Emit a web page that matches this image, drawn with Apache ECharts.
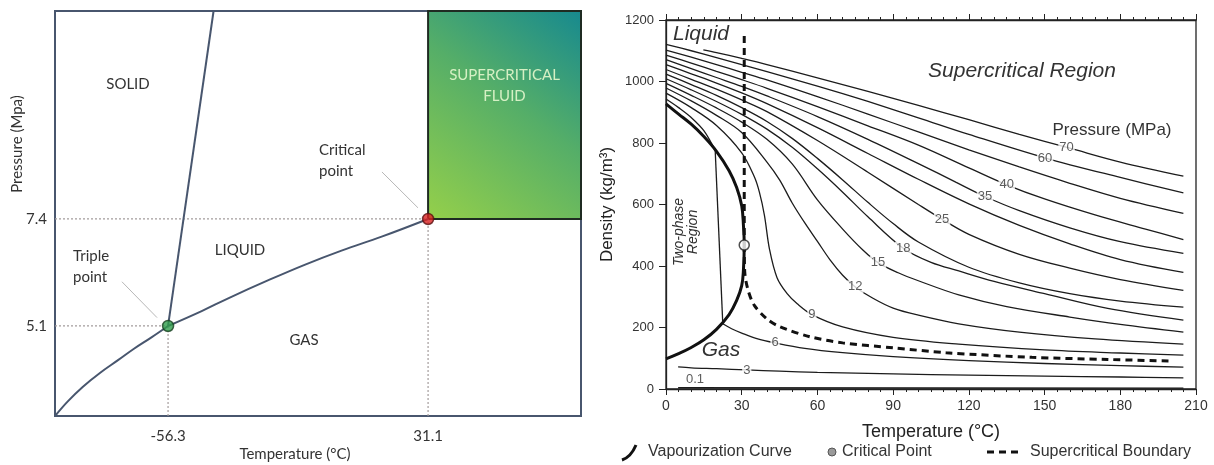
<!DOCTYPE html>
<html>
<head>
<meta charset="utf-8">
<title>CO2 phase diagram and density isobars</title>
<script src="https://cdn.jsdelivr.net/npm/echarts@6/dist/echarts.min.js"></script>
<style>
  html, body { margin: 0; padding: 0; background: #fff; }
  #chart { width: 1214px; height: 465px; }
</style>
</head>
<body>
<div id="chart"></div>
<script>
// ---------- left panel: schematic P-T phase diagram ----------
const ptTempRange = [-94.3, 82.5]
const ptPressRange = [3.165, 11.87]
const ptTempTicks = [-56.3, 31.1]
const ptPressTicks = [5.1, 7.4]
const triplePoint = [-56.3, 5.1]
const criticalPoint = [31.1, 7.4]
const sublimationCurve = [[-94.3, 3.165], [-90, 3.48], [-85, 3.79], [-79.2, 4.09], [-73, 4.37], [-68, 4.6], [-62, 4.85], [-56.3, 5.1]]
const boilingCurve = [[-56.3, 5.1], [-45, 5.42], [-35.9, 5.7], [-22, 6.1], [-10.2, 6.42], [2, 6.72], [15.5, 7.02], [31.1, 7.4]]
const meltingLine = [[-56.3, 5.1], [-41.0, 11.87]]
const tripleLeader = [[-71.8, 6.05], [-60.0, 5.28]]
const criticalLeader = [[15.6, 8.41], [27.7, 7.64]]

// ---------- right panel: CO2 density vs temperature ----------
// [temperature degC, density kg/m3]
const p70 = [[14.8, 1103], [20, 1094], [30, 1075], [40, 1055], [60, 1012], [80, 968], [100, 922], [120, 876], [140, 828], [160, 783], [180, 738], [205, 692]]
const p60 = [[0, 1121], [10, 1100], [20, 1078], [30, 1055], [40, 1032], [60, 985], [80, 935], [100, 882], [120, 828], [150, 752], [180, 688], [205, 638]]
const p50 = [[0, 1102], [10, 1079], [20, 1055], [30, 1030], [40, 1005], [60, 951], [80, 894], [100, 836], [120, 778], [140, 722], [160, 669], [180, 620], [205, 571]]
const p40 = [[0, 1086], [10, 1060], [20, 1033], [30, 1006], [40, 978], [60, 918], [80, 856], [100, 793], [120, 719], [135, 664], [150, 618], [170, 566], [190, 520], [205, 486]]
const p35 = [[0, 1071], [10, 1042], [20, 1013], [30, 984], [40, 953], [60, 886], [80, 812], [100, 733], [115, 672], [126.4, 626], [140, 580], [160, 524], [180, 479], [205, 441]]
const p30 = [[0, 1055], [10, 1025], [20, 995], [30, 963], [40, 928], [60, 850], [80, 766], [100, 682], [120, 602], [140, 532], [160, 472], [180, 421], [205, 379]]
const p25 = [[0, 1039], [10, 1007], [20, 975], [30, 940], [40, 902], [60, 808], [80, 705], [100, 600], [109.4, 552], [120, 503], [140, 438], [160, 393], [180, 356], [205, 321]]
const p20 = [[0, 1024], [10, 990], [20, 955], [30, 915], [40, 870], [50, 815], [60, 750], [70, 680], [80, 607], [90, 538], [100, 478], [120, 396], [140, 345], [160, 310], [180, 286], [205, 266]]
const p18 = [[0, 1009], [10, 973], [20, 935], [30, 893], [40, 845], [50, 786], [60, 716], [70, 640], [80, 560], [94, 458], [105, 412], [116, 384], [130, 350], [150, 310], [175, 262], [205, 224]]
const p15 = [[0, 994], [10, 955], [20, 914], [30, 868], [40, 812], [50, 732], [60, 615], [70, 520], [78, 452], [84, 411], [92, 378], [100, 352], [116, 306], [135, 268], [160, 234], [180, 210], [205, 185]]
const p12 = [[0, 979], [10, 937], [20, 890], [30, 834], [40, 738], [45, 680], [50, 605], [55, 540], [60, 480], [65, 420], [70, 370], [75, 332], [82, 295], [90, 263], [100, 240], [116, 212], [140, 185], [170, 163], [205, 146]]
const p9 = [[0, 962], [10, 915], [20, 857], [30, 768], [35, 690], [37, 640], [39, 565], [41, 455], [44, 362], [48, 310], [52, 277], [57.8, 242], [70, 202], [90, 168], [116, 146], [150, 127], [180, 117], [205, 110]]
const p6Liquid = [[0, 943], [5, 915], [10, 883], [15, 840], [19.5, 775]]
const p6Gas = [[22.5, 212], [26, 196], [30, 182], [36, 164], [43.2, 150], [55, 132], [70, 118], [90, 105], [120, 92], [150, 83], [180, 76], [205, 71]]
const p3 = [[4.8, 72], [10, 69], [20, 66], [32, 62], [45, 58], [60, 54], [90, 49], [120, 45], [150, 42], [180, 39], [205, 36]]
const p01 = [[4.8, 4], [205, 3]]

const satVapour = [[0, 98], [5, 115], [10, 135], [15, 160], [20, 194], [25, 242], [28, 288], [30, 336], [30.7, 390]]
const satLiquid = [[0, 927], [5, 894], [10, 861], [15, 821], [20, 773], [25, 710], [28, 655], [30, 596], [30.7, 530]]
const co2Critical = [31, 468]
const boundaryTop = 1148
const boundaryCurve = [[31, 468], [31.2, 380], [32.5, 322], [35, 272], [40, 228], [45, 203], [57, 170], [70, 150], [90, 134], [111, 118], [145, 103], [175, 96], [200, 91]]

// [temperature, density, text]
const isobarLabels = [[158.7, 786, '70'], [150.2, 750, '60'], [135, 664, '40'], [126.4, 626, '35'], [109.4, 552, '25'],
  [94, 458, '18'], [84, 411, '15'], [75, 332, '12'], [57.8, 242, '9'], [43.2, 150, '6'], [32, 62, '3']]
const lowLabel = [11.5, 4, '0.1']

const leftFont = 'Lato, "Open Sans", sans-serif'
const rightFont = '"Liberation Sans", Arial, sans-serif'
const slate = '#48566e'
const ink = '#1c1c1c'

const chart = echarts.init(document.getElementById('chart'))

function line(data, extra) {
  return Object.assign({
    type: 'line',
    xAxisIndex: 1,
    yAxisIndex: 1,
    data: data,
    showSymbol: false,
    silent: true,
    smooth: 0.35,
    lineStyle: { color: ink, width: 1.3 }
  }, extra || {})
}

const series = []

// left panel
series.push({
  type: 'line', xAxisIndex: 0, yAxisIndex: 0, data: [], silent: true,
  markArea: {
    silent: true,
    itemStyle: {
      color: new echarts.graphic.LinearGradient(0, 1, 1, 0, [
        { offset: 0, color: '#95d04a' },
        { offset: 0.55, color: '#55ae68' },
        { offset: 1, color: '#16898f' }
      ]),
      borderColor: '#1f2b22',
      borderWidth: 2
    },
    label: {
      show: true, position: ['50%', '36%'], align: 'center', verticalAlign: 'middle',
      formatter: 'SUPERCRITICAL\nFLUID', color: '#d6f0c4', fontFamily: leftFont, fontSize: 15, lineHeight: 21
    },
    data: [[{ coord: criticalPoint }, { coord: [ptTempRange[1], ptPressRange[1]] }]]
  }
})
const guide = { color: '#a39c9c', width: 1.2, type: [2, 2] }
const guides = [
  [[ptTempRange[0], criticalPoint[1]], criticalPoint],
  [[criticalPoint[0], ptPressRange[0]], criticalPoint],
  [[ptTempRange[0], triplePoint[1]], triplePoint],
  [[triplePoint[0], ptPressRange[0]], triplePoint]
]
guides.forEach(g => series.push({ type: 'line', xAxisIndex: 0, yAxisIndex: 0, data: g, showSymbol: false, silent: true, lineStyle: guide }))
;[tripleLeader, criticalLeader].forEach(g => series.push({
  type: 'line', xAxisIndex: 0, yAxisIndex: 0, data: g, showSymbol: false, silent: true, lineStyle: { color: '#b8b8b8', width: 1 }
}))
;[sublimationCurve, boilingCurve].forEach(c => series.push({
  type: 'line', xAxisIndex: 0, yAxisIndex: 0, data: c, showSymbol: false, silent: true, smooth: 0.4,
  lineStyle: { color: slate, width: 2 }
}))
series.push({ type: 'line', xAxisIndex: 0, yAxisIndex: 0, data: meltingLine, showSymbol: false, silent: true, lineStyle: { color: slate, width: 2 } })
series.push({ type: 'scatter', xAxisIndex: 0, yAxisIndex: 0, data: [triplePoint], symbolSize: 11, z: 5,
  itemStyle: { color: '#2f9e4b', borderColor: '#17401f', borderWidth: 1.5 } })
series.push({ type: 'scatter', xAxisIndex: 0, yAxisIndex: 0, data: [criticalPoint], symbolSize: 11, z: 5,
  itemStyle: { color: '#d92222', borderColor: '#5a1010', borderWidth: 1.5 } })

// right panel
;[p70, p60, p50, p40, p35, p30, p25, p20, p18, p15, p12, p9, p6Liquid, p6Gas, p3, p01].forEach(d => series.push(line(d)))
series.push(line([p6Liquid[p6Liquid.length - 1], p6Gas[0]], { smooth: false }))
series.push(line(satVapour.concat([co2Critical], satLiquid.slice().reverse()), {
  name: 'Vapourization Curve', smooth: 0.4, lineStyle: { color: '#111', width: 3 }, z: 3
}))
series.push(line([[co2Critical[0], boundaryTop], co2Critical], {
  smooth: false, lineStyle: { color: '#111', width: 3, type: [7, 5] }, z: 3
}))
series.push(line(boundaryCurve, { smooth: 0.3, lineStyle: { color: '#111', width: 3, type: [7, 5] }, z: 3 }))
series.push({
  type: 'scatter', xAxisIndex: 1, yAxisIndex: 1, silent: true, z: 6, symbolSize: 10,
  data: [co2Critical], itemStyle: { color: '#fff', borderColor: '#222', borderWidth: 1.5 }
})
series.push({
  type: 'scatter', xAxisIndex: 1, yAxisIndex: 1, silent: true, z: 5, symbolSize: 0,
  data: isobarLabels.map(d => ({ name: d[2], value: [d[0], d[1]] })).concat([{
    name: lowLabel[2], value: [lowLabel[0], lowLabel[1]],
    label: { position: 'top', distance: 2, backgroundColor: 'transparent' }
  }]),
  label: {
    show: true, position: 'inside', formatter: '{b}', color: '#333',
    fontFamily: '"Liberation Sans Narrow", ' + rightFont, fontSize: 13,
    backgroundColor: '#fff', padding: [0, 1]
  }
})

const txt = (x, y, text, style) => ({
  type: 'text', x: x, y: y, silent: true,
  style: Object.assign({ text: text, fill: '#333', textAlign: 'center', textVerticalAlign: 'middle', align: 'center', verticalAlign: 'middle' }, style)
})
const lf = size => ({ fontFamily: leftFont, fontSize: size })
const rf = (size, italic) => ({ fontFamily: rightFont, fontSize: size, fontStyle: italic ? 'italic' : 'normal' })
const leftAlign = { textAlign: 'left', align: 'left' }

const option = {
  animation: false,
  backgroundColor: '#fff',
  grid: [
    { left: 55, right: 633, top: 11, bottom: 49, show: true, borderColor: slate, borderWidth: 2, outerBoundsMode: 'none' },
    { left: 666, right: 18, top: 20, bottom: 76, show: true, borderColor: '#222', borderWidth: 1.3, outerBoundsMode: 'none' }
  ],
  xAxis: [
    {
      gridIndex: 0, type: 'value', min: ptTempRange[0], max: ptTempRange[1],
      axisLine: { show: false }, axisTick: { show: false }, splitLine: { show: false },
      axisLabel: { customValues: ptTempTicks, margin: 13, color: '#333', fontFamily: leftFont, fontSize: 15 }
    },
    {
      gridIndex: 1, type: 'value', min: 0, max: 210, interval: 30,
      name: 'Temperature (°C)', nameLocation: 'middle', nameGap: 34,
      nameTextStyle: { color: '#222', fontFamily: rightFont, fontSize: 18 },
      axisLine: { lineStyle: { color: '#222', width: 1.3 } },
      axisTick: { length: 6, lineStyle: { color: '#222' } },
      minorTick: { show: true, splitNumber: 6, length: 3, lineStyle: { color: '#222' } },
      splitLine: { show: false },
      axisLabel: { margin: 10, color: '#333', fontFamily: rightFont, fontSize: 14 }
    },
    {
      gridIndex: 1, type: 'value', position: 'top', min: 0, max: 210, interval: 30,
      axisLine: { lineStyle: { color: '#222', width: 1.3 } },
      axisTick: { length: 6, lineStyle: { color: '#222' } },
      minorTick: { show: true, splitNumber: 6, length: 3, lineStyle: { color: '#222' } },
      splitLine: { show: false }, axisLabel: { show: false }
    }
  ],
  yAxis: [
    {
      gridIndex: 0, type: 'value', min: ptPressRange[0], max: ptPressRange[1],
      axisLine: { show: false }, axisTick: { show: false }, splitLine: { show: false },
      axisLabel: { customValues: ptPressTicks, margin: 8, color: '#333', fontFamily: leftFont, fontSize: 15 }
    },
    {
      gridIndex: 1, type: 'value', min: 0, max: 1200, interval: 200,
      name: 'Density (kg/m³)', nameLocation: 'middle', nameGap: 50,
      nameTextStyle: { color: '#222', fontFamily: rightFont, fontSize: 17 },
      axisLine: { show: true, lineStyle: { color: '#222', width: 1.3 } },
      axisTick: { show: true, length: 7, lineStyle: { color: '#222' } },
      splitLine: { show: false },
      axisLabel: { margin: 12, color: '#333', fontFamily: rightFont, fontSize: 13, formatter: v => String(v) }
    }
  ],
  graphic: [
    // left panel text
    Object.assign(txt(17, 144, 'Pressure (Mpa)', lf(15)), { rotation: Math.PI / 2 }),
    txt(295, 454, 'Temperature (°C)', lf(15)),
    txt(128, 84, 'SOLID', lf(15)),
    txt(240, 250, 'LIQUID', lf(15)),
    txt(304, 340, 'GAS', lf(15)),
    txt(73, 256, 'Triple', Object.assign(lf(15), leftAlign)),
    txt(73, 277, 'point', Object.assign(lf(15), leftAlign)),
    txt(319, 150, 'Critical', Object.assign(lf(15), leftAlign)),
    txt(319, 171, 'point', Object.assign(lf(15), leftAlign)),
    // right panel text
    txt(701, 34, 'Liquid', rf(21, true)),
    txt(1022, 71, 'Supercritical Region', rf(21, true)),
    txt(1112, 130, 'Pressure (MPa)', rf(17)),
    txt(721, 350, 'Gas', rf(21, true)),
    Object.assign(txt(686, 232, 'Two-phase\nRegion', Object.assign(rf(14, true), { lineHeight: 14 })), { rotation: Math.PI / 2 }),
    // legend
    { type: 'bezierCurve', silent: true, shape: { x1: 622, y1: 460, x2: 636, y2: 445, cpx1: 631, cpy1: 457 }, style: { stroke: '#111', lineWidth: 3, fill: null } },
    txt(648, 452, 'Vapourization Curve', Object.assign(rf(16), leftAlign)),
    { type: 'circle', silent: true, shape: { cx: 832, cy: 452, r: 4 }, style: { fill: '#9a9a9a', stroke: '#555', lineWidth: 1 } },
    txt(842, 452, 'Critical Point', Object.assign(rf(16), leftAlign)),
    { type: 'line', silent: true, shape: { x1: 987, y1: 452, x2: 1021, y2: 452 }, style: { stroke: '#111', lineWidth: 3, lineDash: [7, 5] } },
    txt(1030, 452, 'Supercritical Boundary', Object.assign(rf(16), leftAlign))
  ],
  series: series
}

chart.setOption(option)
</script>
</body>
</html>
